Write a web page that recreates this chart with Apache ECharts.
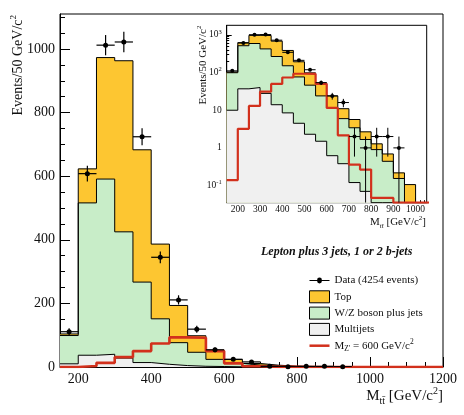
<!DOCTYPE html>
<html><head><meta charset="utf-8">
<script src="https://cdn.jsdelivr.net/npm/echarts@6/dist/echarts.min.js"></script>
<style>html,body{margin:0;padding:0;background:#fff}#c{width:464px;height:415px}</style>
</head><body><div id="c"></div>
<script>
// ---- data (50 GeV/c^2 bins, lower edges) ----
const binLow = [150,200,250,300,350,400,450,500,550,600,650,700,750,800,850,900,950,1000,1050,1100,1150];
const multijets = [10,37,40,28,14,8.5,4.5,2.3,1.5,0.62,0.38,0.12,0.07,0,0,0,0,0,0,0,0];
const wzJets    = [89,479,551,397,253,143,72,44,22.5,10.9,5.6,3.3,1.6,0.9,0.44,0.154,0,0,0,0,0];
const topPairs  = [5,107,382,538,416,235,117,52,29,12.5,5,2.25,1.0,0.38,0.25,0.063,0.106,0,0,0,0];
const zPrime600 = [0.14,3.2,13,31,50,74,93,92,50,11.5,2.16,0.36,0.265,0.047,0.047,0,0,0,0,0,0];
const dataCounts = [111,608,1012,1022,724,345,211,119,54,24,16,2,1,2,2,1,0,0,0,0,0];
const mainXTicks = [200,400,600,800,1000,1200];
const mainYTicks = [0,200,400,600,800,1000];
const insetXTicks = [200,300,400,500,600,700,800,900,1000];
const insetYTicks = [0.1,1,10,100,1000];

const BW = 50;
const FONT = 'Liberation Serif';
const ORANGE = '#fdc631', GREEN = '#c8edc8', GREY = '#f0f0f0', RED = '#d2301c';
const LOGMIN = 0.035, LOGMAX = 1800;

function range(a, b, s){ const r=[]; for(let v=a; v<=b+1e-9; v+=s) r.push(+v.toFixed(6)); return r; }
const mainXMinor = range(200,1150,50);
const mainYMinor = range(50,1100,50);
const insetXMinor = range(160,1040,20);
const insetYMinor = [];
for (let d=-2; d<=3; d++) for (let k=2; k<=9; k++) { const v=+(k*Math.pow(10,d)).toPrecision(3); if (v>LOGMIN && v<LOGMAX) insetYMinor.push(v); }

const cumWZ = multijets.map((v,i)=>v+wzJets[i]);
const cumTot = cumWZ.map((v,i)=>v+topPairs[i]);

function histPts(vals, floor){
  const pts = vals.map((v,i)=>[binLow[i], Math.max(v,floor)]);
  const n = vals.length, end = binLow[n-1]+BW;
  pts.push([end, Math.max(vals[n-1],floor)]);
  pts.push([end, floor]);
  return pts;
}
function hist(name, vals, fill, g, floor, lw, color){
  const s = {type:'line', name, xAxisIndex:g*2, yAxisIndex:g*2, data:histPts(vals,floor), step:'end',
    symbol:'none', silent:true, clip:true, z:2,
    lineStyle:{color: color||'#000', width: lw||1},
    itemStyle:{color: fill||color||'#000'}};
  if (fill) s.areaStyle = {color:fill, opacity:1, origin:floor};
  return s;
}
function pointsData(floor){
  const out=[];
  dataCounts.forEach((n,i)=>{ if(n>0) out.push([binLow[i]+BW/2, n, Math.max(n-Math.sqrt(n), floor), n+Math.sqrt(n)]); });
  return out;
}
function errBars(name, g, floor){
  return {type:'custom', name, xAxisIndex:g*2, yAxisIndex:g*2, z:4, silent:true, clip:true,
    data: pointsData(floor), encode:{x:0,y:1},
    renderItem(params, api){
      const xc=api.value(0), v=api.value(1), lo=api.value(2), hi=api.value(3);
      const a=api.coord([xc-BW/2,v]), b=api.coord([xc+BW/2,v]);
      const t=api.coord([xc,hi]), u=api.coord([xc,lo]);
      const st={stroke:'#000', lineWidth: g===0?1.2:1};
      return {type:'group', children:[
        {type:'line', shape:{x1:a[0],y1:a[1],x2:b[0],y2:b[1]}, style:st},
        {type:'line', shape:{x1:t[0],y1:t[1],x2:u[0],y2:u[1]}, style:st}
      ]};
    }};
}
function dots(name, g, size){
  return {type:'line', name, xAxisIndex:g*2, yAxisIndex:g*2, z:5, silent:true,
    data: pointsData(g===0?0:LOGMIN).map(p=>[p[0],p[1]]),
    symbol:'circle', symbolSize:size, showSymbol:true, showAllSymbol:true,
    itemStyle:{color:'#000'}, lineStyle:{opacity:0, width:0, color:'#000'}};
}

const tickStyle = {color:'#000', width:1};
function valAxis(dim, g, type, min, max, ticks, minor, majLen, minLen, label){
  const pos = dim==='x' ? 'bottom' : 'left';
  const major = {type, gridIndex:g, position:pos, min, max,
    axisLine:{show:true, lineStyle:{color:'#000', width:1}}, splitLine:{show:false},
    axisTick:{show:true, inside:true, length:majLen, customValues:ticks, lineStyle:tickStyle},
    axisLabel:Object.assign({customValues:ticks, fontFamily:FONT, color:'#111'}, label)};
  if (type==='log') major.logBase = 10;
  const mn = {type, gridIndex:g, position:pos, min, max,
    axisLine:{show:false}, splitLine:{show:false}, axisLabel:{show:false},
    axisTick:{show:true, inside:true, length:minLen, customValues:minor, lineStyle:tickStyle}};
  if (type==='log') mn.logBase = 10;
  return [major, mn];
}

const xAxes = [
  ...valAxis('x',0,'value',150,1200,mainXTicks,mainXMinor,10,5,{fontSize:14, margin:5, formatter:v=>String(v)}),
  ...valAxis('x',1,'value',150,1050,insetXTicks,insetXMinor,5,2.5,{fontSize:9.5, margin:2, formatter:v=>String(v)})
];
const yAxes = [
  ...valAxis('y',0,'value',0,1110,mainYTicks,mainYMinor,10,5,{fontSize:14, margin:5, formatter:v=>String(v)}),
  ...valAxis('y',1,'log',LOGMIN,LOGMAX,insetYTicks,insetYMinor,5,2.5,{fontSize:9.5, margin:5, lineHeight:13,
     formatter:v=>{const e=Math.round(Math.log10(v)); if(e===0) return '1'; if(e===1) return '10'; return '10{s|'+e+'}';},
     rich:{s:{fontSize:6.5, fontFamily:FONT, color:'#111', verticalAlign:'top', lineHeight:7}}})
];

const ZNAME = "MZ' = 600 GeV/c2";
const series = [
  hist('Top', cumTot, ORANGE, 0, 0),
  hist('W/Z boson plus jets', cumWZ, GREEN, 0, 0),
  hist('Multijets', multijets, GREY, 0, 0),
  hist(ZNAME, zPrime600, null, 0, 0, 2.6, RED),
  errBars('Data err', 0, 0),
  dots('Data (4254 events)', 0, 5),
  hist('Top log', cumTot, ORANGE, 1, LOGMIN),
  hist('WZ log', cumWZ, GREEN, 1, LOGMIN),
  hist('MJ log', multijets, GREY, 1, LOGMIN),
  hist('Zp log', zPrime600, null, 1, LOGMIN, 2.2, RED),
  errBars('Data err log', 1, LOGMIN),
  dots('Data log', 1, 4)
];

const supRich = (fs, lh) => ({
  a:{fontFamily:FONT, fontSize:fs, fill:'#111', lineHeight:lh},
  s:{fontFamily:FONT, fontSize:Math.round(fs*0.65), fill:'#111', verticalAlign:'top', lineHeight:Math.round(fs*0.65)},
  b:{fontFamily:FONT, fontSize:Math.round(fs*0.68), fill:'#111', verticalAlign:'bottom', lineHeight:Math.round(fs*0.68)}
});

const DATA_ICON = 'path://M0,2h7.6a2.4,2.4 0 0 1 4.8,0h7.6v1h-7.6a2.4,2.4 0 0 1 -4.8,0h-7.6z';
const LINE_ICON = 'path://M0,0h20v2.5h-20z';

const option = {
  animation:false,
  backgroundColor:'#fff',
  grid:[
    {left:60, top:14, right:21, bottom:48, show:true, borderColor:'#000', borderWidth:1, backgroundColor:'transparent'},
    {left:226.7, top:25.3, width:200, height:177.4, show:true, borderColor:'#000', borderWidth:1, backgroundColor:'transparent'}
  ],
  xAxis:xAxes, yAxis:yAxes, series,
  legend:{orient:'vertical', left:309, top:273, padding:0, itemWidth:20, itemHeight:12, itemGap:1.3, selectedMode:false,
    symbolKeepAspect:true,
    textStyle:{fontFamily:FONT, fontSize:11, color:'#111', lineHeight:15,
      rich:{m:{fontFamily:FONT, fontSize:11, color:'#111', lineHeight:15},
            b:{fontFamily:FONT, fontSize:7.5, color:'#111', verticalAlign:'bottom', lineHeight:8},
            s:{fontFamily:FONT, fontSize:7.5, color:'#111', verticalAlign:'top', lineHeight:8}}},
    formatter:name => name===ZNAME ? "{m|M}{b|Z'}{m| = 600 GeV/c}{s|2}" : name,
    data:[
      {name:'Data (4254 events)', icon:DATA_ICON, itemStyle:{color:'#000', borderWidth:0}},
      {name:'Top', icon:'rect', itemStyle:{color:ORANGE, borderColor:'#000', borderWidth:1}},
      {name:'W/Z boson plus jets', icon:'rect', itemStyle:{color:GREEN, borderColor:'#000', borderWidth:1}},
      {name:'Multijets', icon:'rect', itemStyle:{color:GREY, borderColor:'#000', borderWidth:1}},
      {name:ZNAME, icon:LINE_ICON, itemStyle:{color:RED, borderWidth:0}}
    ]},
  graphic:[
    {type:'text', x:18, y:15, rotation:Math.PI/2, silent:true,
      style:{text:'{a|Events/50 GeV/c}{s|2}', align:'right', verticalAlign:'middle', rich:supRich(14,18)}},
    {type:'text', x:203, y:25.5, rotation:Math.PI/2, silent:true,
      style:{text:'{a|Events/50 GeV/c}{s|2}', align:'right', verticalAlign:'middle', rich:supRich(11,14)}},
    {type:'text', x:443, y:396, silent:true,
      style:{text:'{a|M}{b|tt\u0304}{a| [GeV/c}{s|2}{a|]}', align:'right', verticalAlign:'middle', rich:supRich(15,20)}},
    {type:'text', x:426, y:222.5, silent:true,
      style:{text:'{a|M}{b|tt\u0304}{a| [GeV/c}{s|2}{a|]}', align:'right', verticalAlign:'middle', rich:supRich(11,15)}},
    {type:'text', x:336.7, y:251.7, silent:true,
      style:{text:'Lepton plus 3 jets, 1 or 2 b-jets', align:'center', verticalAlign:'middle',
        font:'italic bold 12px "Liberation Serif"', fill:'#111'}}
  ]
};
const chart = echarts.init(document.getElementById('c'), null, {renderer:'canvas'});
chart.setOption(option);
</script>
</body></html>
